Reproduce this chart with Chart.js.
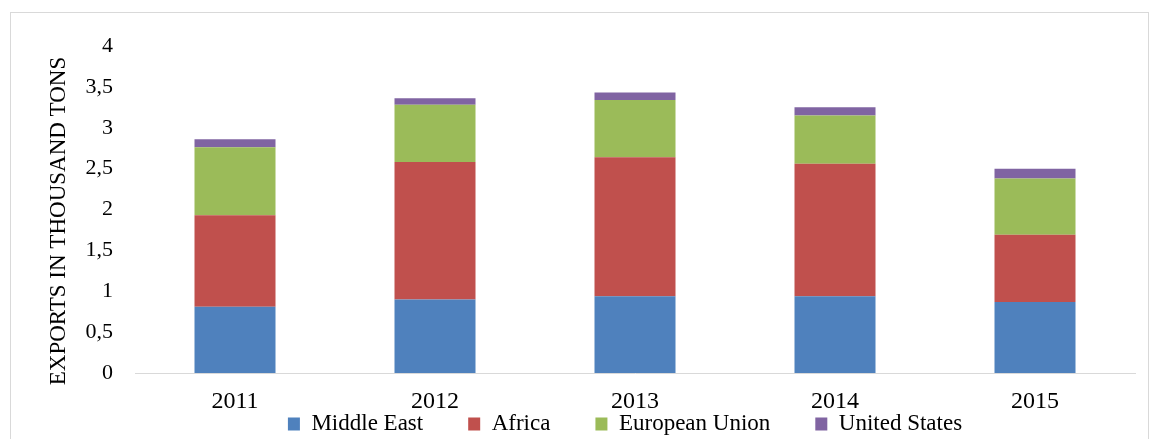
<!DOCTYPE html>
<html>
<head>
<meta charset="utf-8">
<script src="https://cdn.jsdelivr.net/npm/chart.js@4/dist/chart.umd.min.js"></script>
<style>
    html, body { margin: 0; padding: 0; background: #fff; overflow: hidden; }
    #wrap { position: relative; width: 1153px; height: 439px; }
    #frame { position: absolute; left: 10px; top: 12px; width: 1137px; height: 440px; border: 1px solid #d9d9d9; pointer-events: none; }
</style>
</head>
<body>
<div id="wrap">
    <canvas id="exports-chart"></canvas>
    <div id="frame"></div>
</div>
<script>
const years = ['2011', '2012', '2013', '2014', '2015'];
const middleEast = [0.81, 0.90, 0.94, 0.94, 0.87];
const africa = [1.12, 1.68, 1.70, 1.62, 0.82];
const europeanUnion = [0.83, 0.70, 0.70, 0.59, 0.69];
const unitedStates = [0.10, 0.08, 0.09, 0.10, 0.12];
const yTicks = [0, 0.5, 1, 1.5, 2, 2.5, 3, 3.5, 4];

const serif = 'Liberation Serif, Times New Roman, serif';

// legend sits tight under the year labels, like the original
const tightLegend = {
    id: 'tightLegend',
    afterInit(chart) {
        const legend = chart.legend;
        const fit = legend.fit;
        legend.fit = function () {
            fit.call(this);
            this.height = 22;
        };
    },
    afterLayout(chart) {
        const legend = chart.legend;
        legend.top = 367.5;
        legend.bottom = chart.height;
        legend.left += 37;
        legend.right += 37;
    },
};

function series(label, data, color) {
    return {
        label,
        data,
        backgroundColor: color,
        borderWidth: 0,
        barPercentage: 0.405,
        categoryPercentage: 1,
    };
}

new Chart(document.getElementById('exports-chart'), {
    type: 'bar',
    data: {
        labels: years,
        datasets: [
            series('Middle East', middleEast, '#4f81bd'),
            series('Africa', africa, '#c0504d'),
            series('European Union', europeanUnion, '#9bbb59'),
            series('United States', unitedStates, '#8064a2'),
        ],
    },
    options: {
        responsive: true,
        maintainAspectRatio: false,
        animation: false,
        layout: { padding: { left: 41, right: 18, top: 46, bottom: 0 } },
        plugins: {
            legend: {
                position: 'bottom',
                labels: {
                    color: '#000',
                    font: { family: serif, size: 23 },
                    boxWidth: 12,
                    boxHeight: 13,
                    padding: 45,
                },
            },
            tooltip: { enabled: false },
        },
        scales: {
            x: {
                stacked: true,
                grid: { display: false, drawTicks: false },
                border: { display: true, color: '#d9d9d9', width: 1 },
                ticks: { color: '#000', font: { family: serif, size: 24 }, padding: 14 },
                afterFit: (scale) => { scale.height = 44; },
            },
            y: {
                stacked: true,
                min: 0,
                max: 4,
                grid: { display: false, drawTicks: false },
                border: { display: false },
                afterBuildTicks: (scale) => { scale.ticks = yTicks.map((v) => ({ value: v })); },
                ticks: {
                    color: '#000',
                    font: { family: serif, size: 22 },
                    padding: 22,
                    callback: (v) => String(v).replace('.', ','),
                },
                title: {
                    display: true,
                    text: 'EXPORTS IN THOUSAND TONS    ',
                    color: '#000',
                    font: { family: serif, size: 23 },
                },
                afterFit: (scale) => { scale.width = 94; },
            },
        },
    },
    plugins: [tightLegend],
});
</script>
</body>
</html>
